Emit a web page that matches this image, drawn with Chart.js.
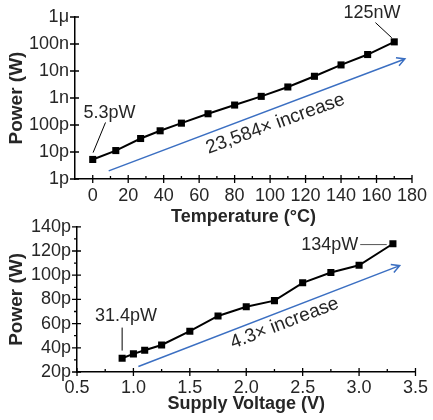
<!DOCTYPE html>
<html>
<head>
<meta charset="utf-8">
<script src="https://cdn.jsdelivr.net/npm/chart.js@4"></script>
<style>
  html, body { margin: 0; padding: 0; background: #fff; }
  #wrap { position: relative; width: 433px; height: 420px; }
  canvas { position: absolute; left: 0; }
</style>
</head>
<body>
<div id="wrap">
  <canvas id="graficoTemp" width="433" height="230" style="top:0"></canvas>
  <canvas id="graficoVolt" width="433" height="210" style="top:210px"></canvas>
</div>
<script>
// Temperatura
const tempC = [0, 13, 27, 38, 50, 65, 80, 95, 110, 125, 140, 155, 170];
const tempPower = [5.3e-12, 11.3e-12, 31.6e-12, 61e-12, 117e-12, 261e-12, 548e-12,
  1.15e-9, 2.56e-9, 6.37e-9, 16.8e-9, 40.7e-9, 120e-9];
const tempTicks = [0, 20, 40, 60, 80, 100, 120, 140, 160, 180];
const tempMinor = [10, 30, 50, 70, 90, 110, 130, 150, 170];
const powerTicks = [1e-12, 1e-11, 1e-10, 1e-9, 1e-8, 1e-7, 1e-6];
const powerLabels = ['1p', '10p', '100p', '1n', '10n', '100n', '1\u03bc'];

// Voltaje
const voltV = [0.9, 1.0, 1.1, 1.25, 1.5, 1.75, 2.0, 2.25, 2.5, 2.75, 3.0, 3.3];
const voltPower = [31.4, 35.0, 38.0, 42.3, 53.7, 66.3, 73.9, 79.0, 93.7, 102.2, 108.2, 126];
const voltTicks = [0.5, 1.0, 1.5, 2.0, 2.5, 3.0, 3.5];
const voltMinor = [0.75, 1.25, 1.75, 2.25, 2.75, 3.25];
const pwTicks = [20, 40, 60, 80, 100, 120, 140];
const pwMinor = [30, 50, 70, 90, 110, 130];

const FONT = "'Liberation Sans', Arial, sans-serif";
const TXT = '#262626';
const BLUE = '#3b6fc2';

// ticks cruzados + notas
const decor = {
  id: 'decor',
  afterDraw(chart, args, o) {
    const ctx = chart.ctx;
    const xs = chart.scales.x, ys = chart.scales.y;
    const area = chart.chartArea;
    const X = v => xs.getPixelForValue(v), Y = v => ys.getPixelForValue(v);
    ctx.save();
    ctx.strokeStyle = '#000';
    ctx.lineWidth = 1.3;
    ctx.beginPath();
    xs.ticks.forEach(t => { const p = X(t.value); ctx.moveTo(p, area.bottom - 4); ctx.lineTo(p, area.bottom + 4); });
    ys.ticks.forEach(t => { const p = Y(t.value); ctx.moveTo(area.left - 5, p); ctx.lineTo(area.left + 4, p); });
    (o.xMinor || []).forEach(v => { const p = X(v); ctx.moveTo(p, area.bottom - 3); ctx.lineTo(p, area.bottom); });
    (o.yMinor || []).forEach(v => { const p = Y(v); ctx.moveTo(area.left - 3, p); ctx.lineTo(area.left, p); });
    ctx.stroke();

    // lineas guia
    (o.lines || []).forEach(l => {
      ctx.strokeStyle = l.color || '#000';
      ctx.lineWidth = 1;
      ctx.beginPath();
      ctx.moveTo(X(l.from[0]), Y(l.from[1]));
      ctx.lineTo(X(l.to[0]), Y(l.to[1]));
      ctx.stroke();
    });

    // flechas
    (o.arrows || []).forEach(a => {
      const x1 = X(a.from[0]), y1 = Y(a.from[1]), x2 = X(a.to[0]), y2 = Y(a.to[1]);
      const ang = Math.atan2(y2 - y1, x2 - x1);
      ctx.strokeStyle = BLUE;
      ctx.lineWidth = 1.5;
      ctx.beginPath();
      ctx.moveTo(x1, y1);
      ctx.lineTo(x2, y2);
      ctx.moveTo(x2 - 9 * Math.cos(ang - 0.5), y2 - 9 * Math.sin(ang - 0.5));
      ctx.lineTo(x2, y2);
      ctx.lineTo(x2 - 9 * Math.cos(ang + 0.5), y2 - 9 * Math.sin(ang + 0.5));
      ctx.stroke();
    });

    // textos
    ctx.fillStyle = TXT;
    ctx.textAlign = 'center';
    ctx.textBaseline = 'middle';
    (o.texts || []).forEach(t => {
      ctx.save();
      ctx.font = (t.size || 18) + 'px ' + FONT;
      ctx.translate(X(t.at[0]), Y(t.at[1]));
      ctx.rotate((t.rot || 0) * Math.PI / 180);
      ctx.fillText(t.text, 0, 0);
      ctx.restore();
    });
    ctx.restore();
  }
};

function escala(extra) {
  return Object.assign({
    grid: { display: false, drawTicks: false },
    border: { color: '#000', width: 1.5 }
  }, extra);
}

function titulo(text, size, pad) {
  return { display: true, text: text, color: TXT, font: { family: FONT, size: size, weight: 'bold' }, padding: pad };
}

const ctxTemp = document.getElementById('graficoTemp');
if (ctxTemp) {
  new Chart(ctxTemp.getContext('2d'), {
    type: 'line',
    data: {
      datasets: [{
        data: tempC.map((t, i) => ({ x: t, y: tempPower[i] })),
        borderColor: '#000',
        borderWidth: 2,
        backgroundColor: '#000',
        pointStyle: 'rect',
        pointRadius: 5,
        pointBackgroundColor: '#000',
        pointBorderWidth: 0,
        fill: false
      }]
    },
    options: {
      responsive: false,
      animation: false,
      layout: { padding: { top: 17, right: 14, left: 0, bottom: 0 } },
      plugins: {
        legend: { display: false },
        tooltip: { enabled: false },
        decor: {
          xMinor: tempMinor,
          arrows: [{ from: [9, 2e-12], to: [176, 28e-9] }],
          lines: [
            { from: [7.2, 1.24e-10], to: [0.2, 9.5e-12] },
            { from: [159.4, 6.2e-7], to: [168.6, 1.7e-7] }
          ],
          texts: [
            { text: '5.3pW', at: [9.4, 2.8e-10] },
            { text: '125nW', at: [157.5, 1.35e-6] },
            { text: '23,584\u00d7 increase', at: [103, 1.1e-10], rot: -20, size: 19 }
          ]
        }
      },
      scales: {
        x: escala({
          type: 'linear', min: -10, max: 180,
          afterBuildTicks: s => { s.ticks = tempTicks.map(v => ({ value: v })); },
          afterFit: s => { s.height = 51; },
          ticks: { color: TXT, font: { family: FONT, size: 18 }, maxRotation: 0, autoSkip: false, padding: 6 },
          title: titulo('Temperature (\u00b0C)', 18, { top: 0, bottom: 2 })
        }),
        y: escala({
          type: 'logarithmic', min: 1e-12, max: 1e-6,
          afterBuildTicks: s => { s.ticks = powerTicks.map(v => ({ value: v })); },
          afterFit: s => { s.width = 75; },
          ticks: {
            color: TXT, font: { family: FONT, size: 18 }, padding: 6, autoSkip: false,
            callback: (v) => powerLabels[powerTicks.findIndex(p => Math.abs(Math.log10(p) - Math.log10(v)) < 0.01)]
          },
          title: titulo('Power (W)', 19, { top: 5, bottom: 0 })
        })
      }
    },
    plugins: [decor]
  });
}

const ctxVolt = document.getElementById('graficoVolt');
if (ctxVolt) {
  new Chart(ctxVolt.getContext('2d'), {
    type: 'line',
    data: {
      datasets: [{
        data: voltV.map((v, i) => ({ x: v, y: voltPower[i] })),
        borderColor: '#000',
        borderWidth: 2,
        backgroundColor: '#000',
        pointStyle: 'rect',
        pointRadius: 5,
        pointBackgroundColor: '#000',
        pointBorderWidth: 0,
        fill: false
      }]
    },
    options: {
      responsive: false,
      animation: false,
      layout: { padding: { top: 15, right: 14, left: 0, bottom: 0 } },
      plugins: {
        legend: { display: false },
        tooltip: { enabled: false },
        decor: {
          xMinor: voltMinor,
          yMinor: pwMinor,
          arrows: [{ from: [1.044, 24.6], to: [3.36, 107.9] }],
          lines: [
            { from: [0.9, 56.7], to: [0.9, 37.7] },
            { from: [3.01, 125.3], to: [3.245, 125.3], color: '#555' }
          ],
          texts: [
            { text: '31.4pW', at: [0.934, 66.3] },
            { text: '134pW', at: [2.74, 125.3] },
            { text: '4.3\u00d7 increase', at: [2.34, 60.3], rot: -21, size: 19 }
          ]
        }
      },
      scales: {
        x: escala({
          type: 'linear', min: 0.5, max: 3.5,
          afterBuildTicks: s => { s.ticks = voltTicks.map(v => ({ value: v })); },
          afterFit: s => { s.height = 48; },
          ticks: {
            color: TXT, font: { family: FONT, size: 18 }, maxRotation: 0, autoSkip: false, padding: 5,
            callback: v => Number(v).toFixed(1)
          },
          title: titulo('Supply Voltage (V)', 18, { top: 0, bottom: 5 })
        }),
        y: escala({
          type: 'linear', min: 20, max: 140,
          afterBuildTicks: s => { s.ticks = pwTicks.map(v => ({ value: v })); },
          afterFit: s => { s.width = 77; },
          ticks: {
            color: TXT, font: { family: FONT, size: 18 }, padding: 6, autoSkip: false,
            callback: v => v + 'p'
          },
          title: titulo('Power (W)', 19, { top: 5, bottom: 0 })
        })
      }
    },
    plugins: [decor]
  });
}
</script>
</body>
</html>
